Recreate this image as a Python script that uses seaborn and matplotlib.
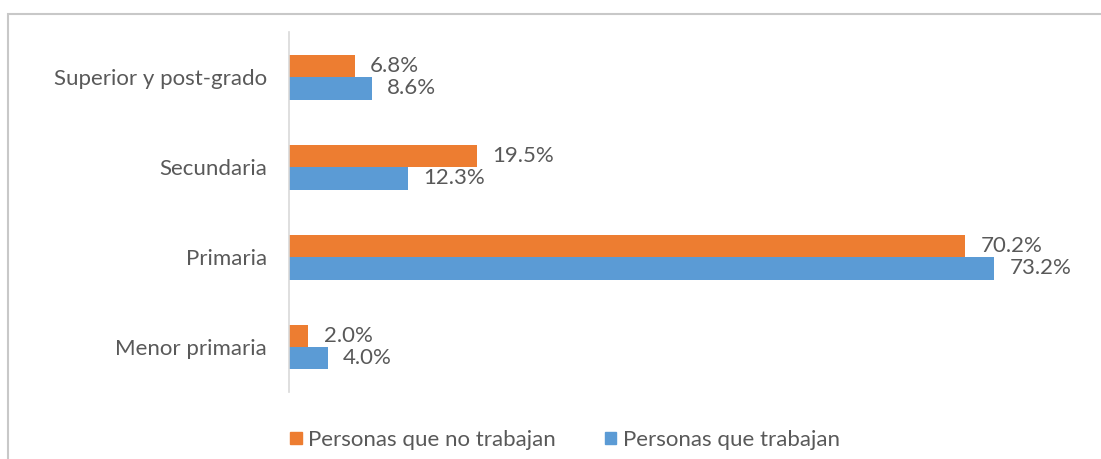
import matplotlib
matplotlib.use("Agg")
import matplotlib.pyplot as plt
from matplotlib.patches import Rectangle
import seaborn as sns
import pandas as pd

# Education level of the population, by working status (%)
niveles = ["Superior y post-grado", "Secundaria", "Primaria", "Menor primaria"]
no_trabajan = [6.8, 19.5, 70.2, 2.0]
trabajan = [8.6, 12.3, 73.2, 4.0]
series = ["Personas que no trabajan", "Personas que trabajan"]
colores = ["#ED7D31", "#5B9BD5"]

df = pd.DataFrame({
    "nivel": niveles * 2,
    "serie": [series[0]] * len(niveles) + [series[1]] * len(niveles),
    "valor": no_trabajan + trabajan,
})

sns.set_theme(style="white")
plt.rcParams["font.family"] = ["Lato", "DejaVu Sans"]
texto = "#595959"
fs = 16

fig = plt.figure(figsize=(11.01, 4.59), dpi=100)
ax = fig.add_axes([0.2625, 0.146, 0.70, 0.784])

sns.barplot(data=df, y="nivel", x="valor", hue="serie", order=niveles,
            hue_order=series, palette=colores, orient="h", width=0.5,
            gap=0, saturation=1, linewidth=0, ax=ax, legend=False)

for cont in ax.containers:
    ax.bar_label(cont, fmt="%.1f%%", padding=11, fontsize=fs, color=texto)

ax.set_xlim(0, 80)
ax.set_ylim(3.5, -0.5)
ax.set_xlabel("")
ax.set_ylabel("")
ax.set_xticks([])
ax.tick_params(axis="y", length=0, pad=16, labelsize=fs, labelcolor=texto)
for s in ["top", "right", "bottom"]:
    ax.spines[s].set_visible(False)
ax.spines["left"].set_color("#D9D9D9")
ax.spines["left"].set_linewidth(1.2)

# Chart frame
fig.patches.append(Rectangle((8 / 1101, -0.1), 1.2, 1 - 14 / 459 + 0.1,
                             transform=fig.transFigure, fill=False,
                             edgecolor="#C8C8C8", linewidth=1.5))

handles = [Rectangle((0, 0), 1, 1, color=c) for c in colores]
fig.legend(handles, series, loc="center", bbox_to_anchor=(565 / 1101, 1 - 440 / 459),
           ncol=2, frameon=False, fontsize=fs, labelcolor=texto,
           handlelength=0.5, handleheight=0.5, handletextpad=0.3, columnspacing=2.2)

fig.savefig("out.png", dpi=100)
